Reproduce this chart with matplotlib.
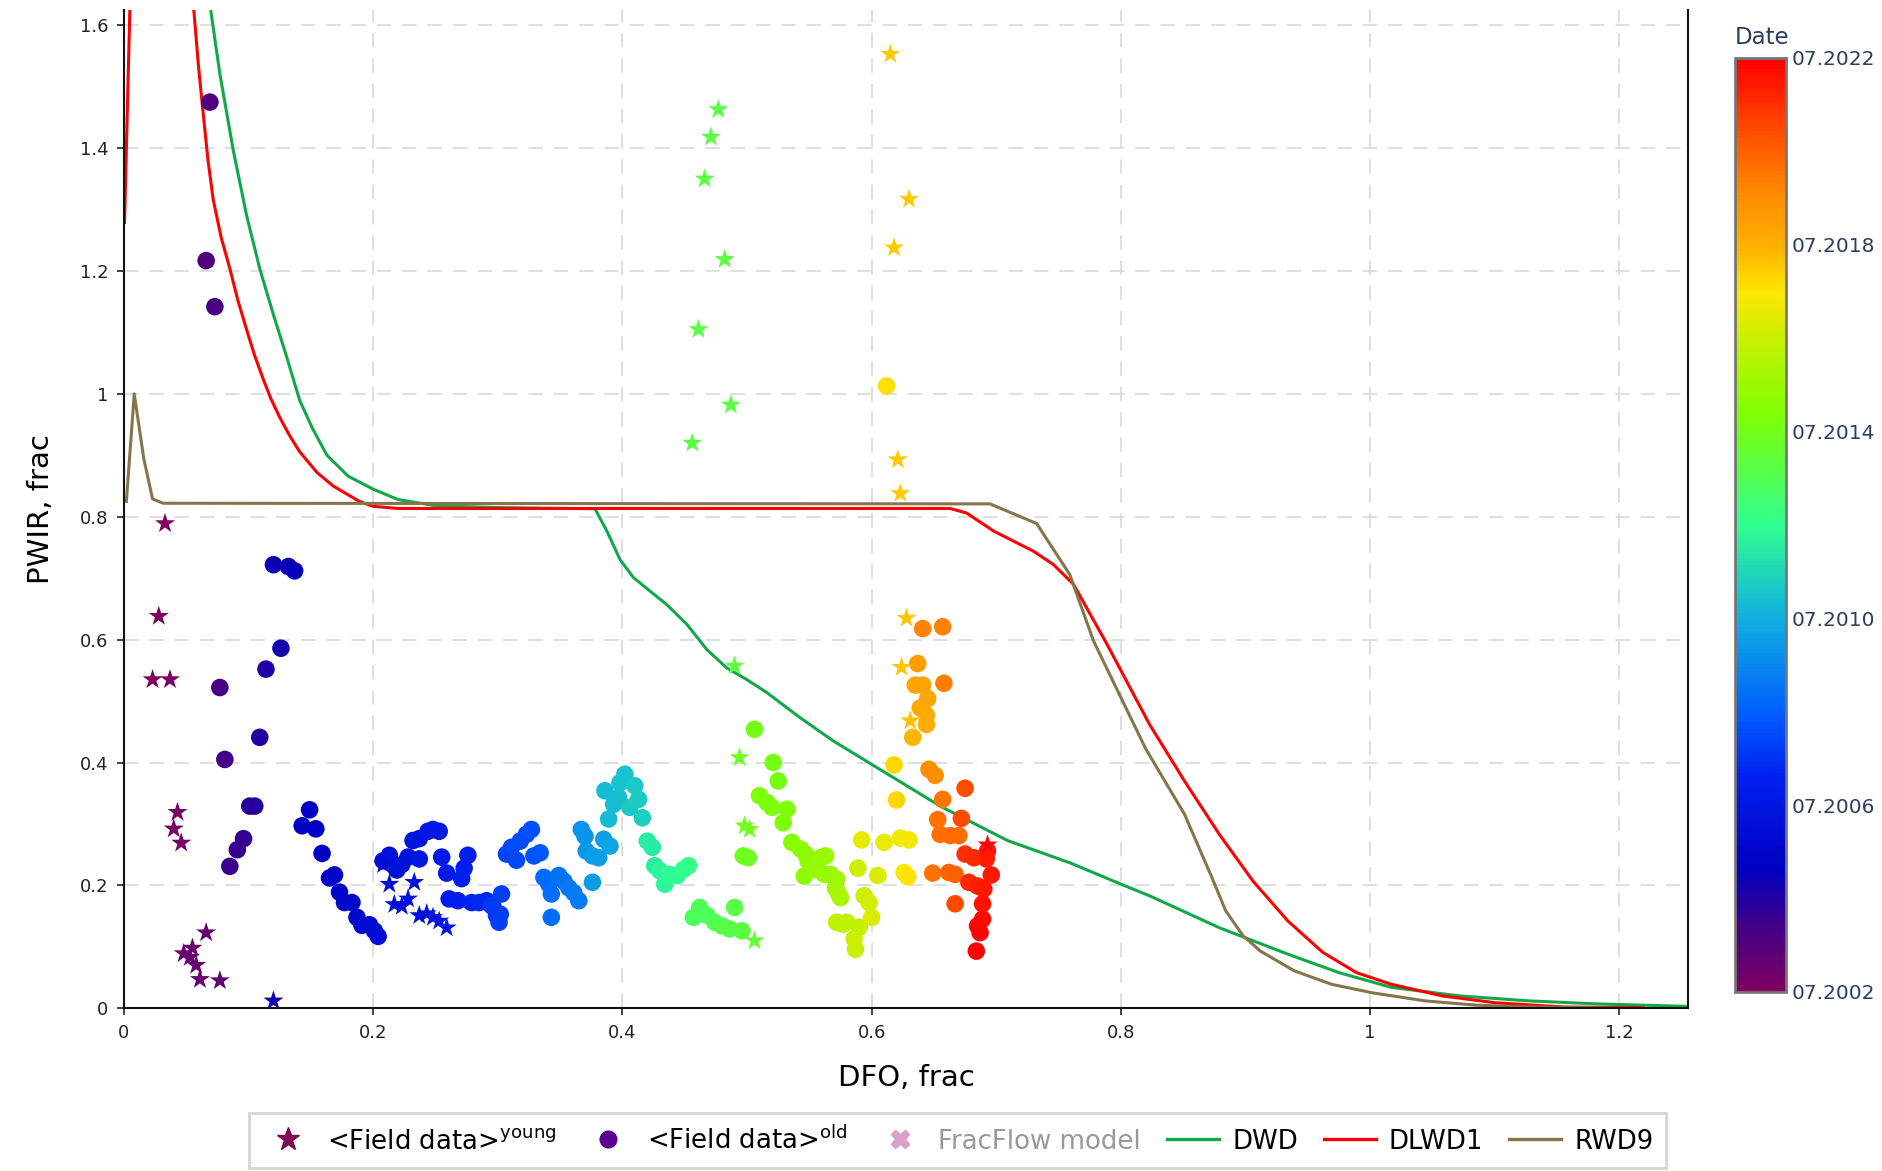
import numpy as np
import matplotlib
matplotlib.use("Agg")
import matplotlib.pyplot as plt
from matplotlib.colors import LinearSegmentedColormap, Normalize
from matplotlib.lines import Line2D

# ---- field data, young wells (stars): DFO, PWIR, date (decimal year)
young_x = [0.033, 0.028, 0.023, 0.037, 0.043, 0.040, 0.046, 0.048, 0.055, 0.053, 0.058, 0.061, 0.066, 0.077,
           0.120,
           0.208, 0.213, 0.217, 0.223, 0.228, 0.233, 0.237, 0.243, 0.248, 0.253, 0.259,
           0.477, 0.471, 0.466, 0.482, 0.461, 0.487, 0.456, 0.490, 0.494, 0.498, 0.502, 0.506,
           0.615, 0.630, 0.618, 0.621, 0.623, 0.628, 0.624, 0.631,
           0.693]
young_y = [0.789, 0.638, 0.535, 0.535, 0.319, 0.292, 0.269, 0.089, 0.098, 0.083, 0.070, 0.047, 0.123, 0.045,
           0.012,
           0.234, 0.202, 0.169, 0.166, 0.178, 0.205, 0.151, 0.154, 0.148, 0.142, 0.131,
           1.463, 1.418, 1.350, 1.219, 1.105, 0.982, 0.920, 0.557, 0.408, 0.297, 0.291, 0.110,
           1.553, 1.317, 1.238, 0.893, 0.838, 0.635, 0.555, 0.468,
           0.266]
young_date = [2002.5, 2002.5, 2002.6, 2002.6, 2002.8, 2002.8, 2002.8, 2003.0, 2003.0, 2003.0, 2003.1, 2003.1, 2003.1, 2003.2,
              2004.8,
              2006.0, 2006.0, 2006.1, 2006.1, 2006.2, 2006.2, 2006.3, 2006.3, 2006.4, 2006.4, 2006.5,
              2013.7, 2013.7, 2013.7, 2013.8, 2013.8, 2013.8, 2013.8, 2013.9, 2014.3, 2014.5, 2014.5, 2014.0,
              2018.0, 2018.0, 2018.0, 2018.0, 2018.0, 2018.1, 2018.1, 2018.2,
              2022.4]

# ---- field data, old wells (circles)
old_x = [0.069, 0.066, 0.073, 0.077, 0.081, 0.085, 0.091, 0.096, 0.101, 0.105, 0.109, 0.114, 0.126, 0.120, 0.132, 0.137,
         0.143, 0.149, 0.154, 0.159, 0.165, 0.169, 0.173, 0.177, 0.183, 0.187, 0.191, 0.197, 0.201, 0.204,
         0.208, 0.213, 0.219, 0.223, 0.228, 0.232, 0.237, 0.244, 0.248, 0.253, 0.237, 0.255, 0.259, 0.261, 0.268,
         0.271, 0.273, 0.276, 0.279, 0.285, 0.291, 0.296, 0.299,
         0.301, 0.302, 0.295, 0.303, 0.307, 0.311, 0.315, 0.318, 0.323, 0.327, 0.329, 0.334,
         0.337, 0.341, 0.343, 0.343, 0.349, 0.353, 0.357, 0.361, 0.365,
         0.367, 0.370, 0.371, 0.376, 0.381, 0.385, 0.390, 0.376,
         0.386, 0.389, 0.393, 0.397, 0.398, 0.402, 0.406, 0.410, 0.413, 0.416,
         0.420, 0.424, 0.426, 0.430, 0.434, 0.438, 0.444, 0.449, 0.453,
         0.457, 0.462, 0.468, 0.474, 0.480, 0.486, 0.490, 0.496,
         0.497, 0.501, 0.506, 0.521, 0.525, 0.510, 0.516, 0.520, 0.532, 0.529,
         0.536, 0.543, 0.547, 0.549, 0.555, 0.559, 0.563, 0.567, 0.572, 0.571, 0.573, 0.575, 0.546, 0.554, 0.562,
         0.572, 0.577, 0.580, 0.590, 0.586, 0.587, 0.594, 0.598, 0.600, 0.589, 0.605,
         0.592, 0.610, 0.623, 0.630, 0.626, 0.629,
         0.612, 0.618, 0.620,
         0.633, 0.644, 0.644, 0.639, 0.645, 0.635, 0.641, 0.637,
         0.641, 0.657, 0.658,
         0.646, 0.651,
         0.657, 0.653, 0.649, 0.655, 0.663, 0.670, 0.662, 0.667,
         0.675, 0.672, 0.667,
         0.675, 0.682, 0.692, 0.693, 0.696, 0.678, 0.685, 0.690, 0.689, 0.689, 0.685, 0.687, 0.684]
old_y = [1.475, 1.217, 1.142, 0.522, 0.405, 0.231, 0.258, 0.276, 0.329, 0.329, 0.441, 0.552, 0.586, 0.722, 0.719, 0.712,
         0.297, 0.323, 0.292, 0.252, 0.212, 0.217, 0.189, 0.172, 0.172, 0.148, 0.135, 0.136, 0.126, 0.117,
         0.240, 0.249, 0.225, 0.234, 0.246, 0.273, 0.276, 0.288, 0.291, 0.288, 0.243, 0.246, 0.220, 0.178, 0.175,
         0.211, 0.228, 0.249, 0.172, 0.172, 0.175, 0.166, 0.151,
         0.140, 0.153, 0.167, 0.186, 0.251, 0.262, 0.241, 0.272, 0.283, 0.291, 0.248, 0.253,
         0.213, 0.202, 0.186, 0.148, 0.216, 0.207, 0.196, 0.188, 0.175,
         0.291, 0.280, 0.256, 0.248, 0.245, 0.275, 0.264, 0.205,
         0.354, 0.308, 0.332, 0.343, 0.367, 0.381, 0.327, 0.362, 0.340, 0.310,
         0.272, 0.262, 0.232, 0.224, 0.202, 0.218, 0.216, 0.226, 0.232,
         0.148, 0.164, 0.151, 0.140, 0.134, 0.129, 0.164, 0.126,
         0.248, 0.245, 0.454, 0.400, 0.370, 0.346, 0.335, 0.327, 0.324, 0.302,
         0.270, 0.259, 0.251, 0.240, 0.232, 0.245, 0.248, 0.218, 0.210, 0.196, 0.188, 0.180, 0.215, 0.226, 0.218,
         0.140, 0.137, 0.140, 0.132, 0.113, 0.096, 0.183, 0.172, 0.148, 0.228, 0.216,
         0.274, 0.270, 0.277, 0.274, 0.221, 0.214,
         1.013, 0.396, 0.339,
         0.441, 0.462, 0.477, 0.489, 0.504, 0.526, 0.526, 0.561,
         0.618, 0.621, 0.529,
         0.389, 0.379,
         0.340, 0.307, 0.220, 0.283, 0.281, 0.281, 0.221, 0.218,
         0.358, 0.309, 0.170,
         0.251, 0.245, 0.243, 0.256, 0.217, 0.205, 0.199, 0.194, 0.170, 0.145, 0.134, 0.123, 0.093]
old_date = [2003.6, 2003.6, 2003.7, 2003.8, 2003.9, 2004.0, 2004.1, 2004.2, 2004.3, 2004.4, 2004.5, 2004.6, 2004.7, 2004.9, 2004.9, 2005.0,
            2005.2, 2005.2, 2005.3, 2005.3, 2005.4, 2005.4, 2005.5, 2005.6, 2005.6, 2005.7, 2005.7, 2005.8, 2005.8, 2005.9,
            2006.0, 2006.1, 2006.1, 2006.2, 2006.3, 2006.4, 2006.4, 2006.5, 2006.6, 2006.7, 2006.5, 2006.7, 2006.8, 2006.9, 2007.0,
            2007.0, 2007.1, 2007.1, 2007.2, 2007.3, 2007.3, 2007.4, 2007.5,
            2007.8, 2007.8, 2007.7, 2007.8, 2007.9, 2008.0, 2008.0, 2008.1, 2008.1, 2008.2, 2008.2, 2008.3,
            2008.8, 2008.8, 2008.9, 2008.9, 2009.0, 2009.0, 2009.1, 2009.1, 2009.2,
            2009.8, 2009.8, 2009.9, 2010.0, 2010.0, 2010.1, 2010.2, 2010.0,
            2010.8, 2010.8, 2010.9, 2010.9, 2011.0, 2011.0, 2011.1, 2011.1, 2011.2, 2011.3,
            2012.0, 2012.0, 2012.1, 2012.2, 2012.3, 2012.4, 2012.4, 2012.5, 2012.6,
            2013.3, 2013.4, 2013.4, 2013.5, 2013.6, 2013.7, 2013.7, 2013.8,
            2014.3, 2014.3, 2014.5, 2014.6, 2014.6, 2014.7, 2014.7, 2014.8, 2014.8, 2014.8,
            2015.0, 2015.1, 2015.1, 2015.2, 2015.3, 2015.3, 2015.4, 2015.5, 2015.6, 2015.6, 2015.7, 2015.8, 2015.2, 2015.3, 2015.4,
            2016.2, 2016.2, 2016.3, 2016.4, 2016.5, 2016.5, 2016.6, 2016.7, 2016.8, 2016.6, 2016.8,
            2017.0, 2017.1, 2017.2, 2017.3, 2017.4, 2017.5,
            2017.6, 2017.8, 2017.8,
            2018.4, 2018.5, 2018.6, 2018.7, 2018.8, 2018.8, 2018.9, 2019.0,
            2019.8, 2019.8, 2019.9,
            2019.5, 2019.5,
            2020.0, 2020.1, 2020.1, 2020.2, 2020.3, 2020.3, 2020.4, 2020.5,
            2021.0, 2021.0, 2021.0,
            2021.5, 2021.6, 2021.8, 2021.9, 2022.0, 2021.7, 2021.8, 2022.0, 2022.1, 2022.2, 2022.3, 2022.4, 2022.5]

# ---- model curves
dwd_x = [0.063, 0.0695, 0.077, 0.0877, 0.0984, 0.109, 0.1198, 0.1305, 0.141, 0.151, 0.163, 0.18, 0.20, 0.22,
         0.25, 0.30, 0.378, 0.3875, 0.3982, 0.4089, 0.4222, 0.4356, 0.4517, 0.4677, 0.4837, 0.4998,
         0.5158, 0.5426, 0.5693, 0.60, 0.655, 0.709, 0.76, 0.80, 0.823, 0.864, 0.879, 0.934, 0.975, 1.017,
         1.072, 1.127, 1.183, 1.255]
dwd_y = [1.73, 1.627, 1.521, 1.397, 1.291, 1.204, 1.130, 1.061, 0.99, 0.945, 0.90, 0.866, 0.845, 0.828,
         0.818, 0.815, 0.813, 0.777, 0.730, 0.701, 0.679, 0.657, 0.625, 0.584, 0.554, 0.535,
         0.514, 0.473, 0.435, 0.397, 0.329, 0.273, 0.236, 0.202, 0.183, 0.145, 0.131, 0.088, 0.058, 0.034,
         0.020, 0.012, 0.007, 0.003]

dlwd1_x = [0.0005, 0.012, 0.05, 0.056, 0.0600, 0.0637, 0.0675, 0.0717, 0.078, 0.085, 0.0915, 0.0984, 0.105, 0.1118,
           0.118, 0.125, 0.133, 0.141, 0.155, 0.168, 0.189, 0.20, 0.22, 0.663, 0.6763, 0.6977, 0.7298, 0.7458,
           0.7565, 0.762, 0.789, 0.823, 0.851, 0.879, 0.906, 0.934, 0.962, 0.989, 1.017, 1.058, 1.10, 1.155, 1.219]
dlwd1_y = [1.279, 2.21, 1.78, 1.627, 1.53, 1.455, 1.38, 1.316, 1.255, 1.204, 1.152, 1.105, 1.062, 1.024,
           0.992, 0.962, 0.932, 0.906, 0.872, 0.850, 0.825, 0.817, 0.8135, 0.8135, 0.806, 0.777, 0.744, 0.7224,
           0.701, 0.690, 0.592, 0.462, 0.370, 0.283, 0.207, 0.142, 0.091, 0.058, 0.039, 0.020, 0.009, 0.002, 0.001]

rwd9_x = [0.002, 0.0083, 0.016, 0.023, 0.0316, 0.695, 0.7324, 0.759, 0.778, 0.82, 0.851, 0.873, 0.884, 0.898,
          0.912, 0.939, 0.969, 1.002, 1.044, 1.085, 1.127, 1.168, 1.20]
rwd9_y = [0.825, 1.0, 0.894, 0.829, 0.822, 0.821, 0.789, 0.706, 0.598, 0.422, 0.316, 0.213, 0.159, 0.118,
          0.093, 0.061, 0.039, 0.025, 0.012, 0.005, 0.002, 0.001, 0.0]

cbar_ticks = [2002.5, 2006.5, 2010.5, 2014.5, 2018.5, 2022.5]
cbar_labels = ["07.2002", "07.2006", "07.2010", "07.2014", "07.2018", "07.2022"]

cmap = LinearSegmentedColormap.from_list("date", [
    (0.00, "#800060"), (0.07, "#400088"), (0.13, "#0000c0"), (0.23, "#0020f0"),
    (0.30, "#0060ff"), (0.40, "#10b0e0"), (0.50, "#30ff90"), (0.62, "#80ff00"),
    (0.70, "#c8f000"), (0.75, "#ffe600"), (0.80, "#ffb000"), (0.85, "#ff9000"),
    (0.92, "#ff5000"), (1.00, "#ff0000")])
norm = Normalize(vmin=2002.5, vmax=2022.5)

fig = plt.figure(figsize=(18.83, 11.71), dpi=100)
ax = fig.add_axes([0.0658, 0.139, 0.8306, 0.8525])

ax.grid(True, color="#dcdcdc", linestyle=(0, (8, 6)), linewidth=1.3)
ax.set_axisbelow(True)

ax.plot(dwd_x, dwd_y, color="#12a84a", lw=2.2, zorder=2)
ax.plot(dlwd1_x, dlwd1_y, color="#ff0000", lw=2.2, zorder=2)
ax.plot(rwd9_x, rwd9_y, color="#85754a", lw=2.2, zorder=2)

ax.scatter(old_x, old_y, c=old_date, cmap=cmap, norm=norm, s=160, marker="o", linewidths=0, zorder=3)
ax.scatter(young_x, young_y, c=young_date, cmap=cmap, norm=norm, s=230, marker="*", linewidths=0, zorder=4)

ax.set_xlim(0, 1.255)
ax.set_ylim(0, 1.625)
ax.set_xticks([0, 0.2, 0.4, 0.6, 0.8, 1.0, 1.2])
ax.set_xticklabels(["0", "0.2", "0.4", "0.6", "0.8", "1", "1.2"])
ax.set_yticks([0, 0.2, 0.4, 0.6, 0.8, 1.0, 1.2, 1.4, 1.6])
ax.set_yticklabels(["0", "0.2", "0.4", "0.6", "0.8", "1", "1.2", "1.4", "1.6"])
ax.tick_params(labelsize=13, length=5, width=1.2, colors="#222222", pad=6)
ax.spines["top"].set_visible(False)
for s in ["left", "bottom", "right"]:
    ax.spines[s].set_linewidth(1.5)
    ax.spines[s].set_color("#111111")
ax.set_xlabel("DFO, frac", fontsize=21, labelpad=16)
ax.set_ylabel("PWIR, frac", fontsize=21, labelpad=18)

# colorbar
cax = fig.add_axes([0.9214, 0.1529, 0.0271, 0.7976])
sm = plt.cm.ScalarMappable(cmap=cmap, norm=norm)
cb = fig.colorbar(sm, cax=cax)
cb.set_ticks(cbar_ticks)
cb.set_ticklabels(cbar_labels)
cb.ax.tick_params(labelsize=14.5, length=0, labelcolor="#2a3f5f", pad=4)
cb.outline.set_edgecolor("#777777")
cb.outline.set_linewidth(2)
fig.text(0.9214, 0.958, "Date", fontsize=16.5, color="#2a3f5f", ha="left", va="bottom")

# legend
handles = [
    Line2D([], [], ls="none", marker="*", ms=17, color="#800a55"),
    Line2D([], [], ls="none", marker="o", ms=12, color="#5a0090"),
    Line2D([], [], ls="none", marker="X", ms=13, color="#d9a0c8"),
    Line2D([], [], color="#12a84a", lw=2.4),
    Line2D([], [], color="#ff0000", lw=2.4),
    Line2D([], [], color="#85754a", lw=2.4),
]
labels = [r"<Field data>$^{\mathrm{young}}$", r"<Field data>$^{\mathrm{old}}$", "FracFlow model",
          "DWD", "DLWD1", "RWD9"]
leg = fig.legend(handles, labels, loc="upper center", bbox_to_anchor=(0.5085, 0.0495), ncol=6,
                 fontsize=18.7, frameon=True, fancybox=False, handlelength=2.0, handletextpad=0.5,
                 columnspacing=1.0, borderpad=0.5, borderaxespad=0, edgecolor="#cccccc")
leg.get_frame().set_linewidth(2)
leg.get_texts()[2].set_color("#999999")

plt.savefig("out.png", dpi=100)
